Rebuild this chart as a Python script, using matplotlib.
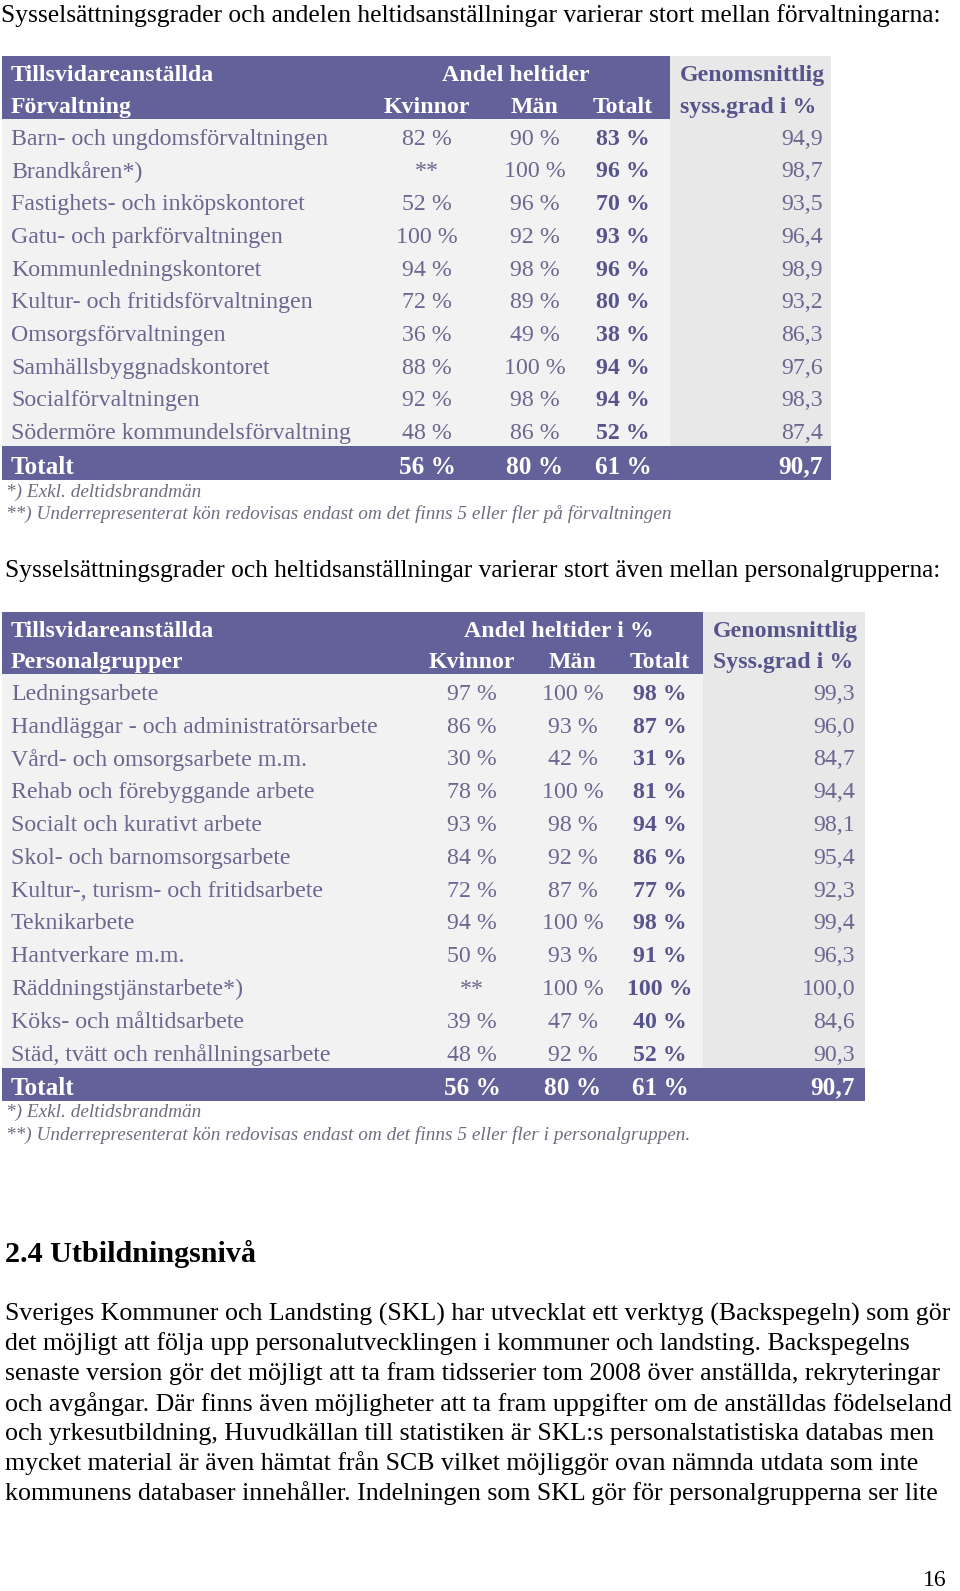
#---------------------------------Start--------------------------------

import matplotlib.pyplot as plt
from matplotlib.patches import Rectangle

plt.rcParams['font.family'] = ['Liberation Serif', 'DejaVu Serif']

#-------------------------------Data-----------------------------------

title1 = 'Sysselsättningsgrader och andelen heltidsanställningar varierar stort mellan förvaltningarna:'
forvaltningar = ['Barn- och ungdomsförvaltningen', 'Brandkåren*)', 'Fastighets- och inköpskontoret',
                 'Gatu- och parkförvaltningen', 'Kommunledningskontoret', 'Kultur- och fritidsförvaltningen',
                 'Omsorgsförvaltningen', 'Samhällsbyggnadskontoret', 'Socialförvaltningen',
                 'Södermöre kommundelsförvaltning']
forv_kvinnor = [82, None, 52, 100, 94, 72, 36, 88, 92, 48]
forv_man = [90, 100, 96, 92, 98, 89, 49, 100, 98, 86]
forv_totalt = [83, 96, 70, 93, 96, 80, 38, 94, 94, 52]
forv_syss = [94.9, 98.7, 93.5, 96.4, 98.9, 93.2, 86.3, 97.6, 98.3, 87.4]
forv_total_row = [56, 80, 61, 90.7]
forv_notes = ['*) Exkl. deltidsbrandmän',
              '**) Underrepresenterat kön redovisas endast om det finns 5 eller fler på förvaltningen']

title2 = 'Sysselsättningsgrader och heltidsanställningar varierar stort även mellan personalgrupperna:'
grupper = ['Ledningsarbete', 'Handläggar - och administratörsarbete', 'Vård- och omsorgsarbete m.m.',
           'Rehab och förebyggande arbete', 'Socialt och kurativt arbete', 'Skol- och barnomsorgsarbete',
           'Kultur-, turism- och fritidsarbete', 'Teknikarbete', 'Hantverkare m.m.',
           'Räddningstjänstarbete*)', 'Köks- och måltidsarbete', 'Städ, tvätt och renhållningsarbete']
grp_kvinnor = [97, 86, 30, 78, 93, 84, 72, 94, 50, None, 39, 48]
grp_man = [100, 93, 42, 100, 98, 92, 87, 100, 93, 100, 47, 92]
grp_totalt = [98, 87, 31, 81, 94, 86, 77, 98, 91, 100, 40, 52]
grp_syss = [99.3, 96.0, 84.7, 94.4, 98.1, 95.4, 92.3, 99.4, 96.3, 100.0, 84.6, 90.3]
grp_total_row = [56, 80, 61, 90.7]
grp_notes = ['*) Exkl. deltidsbrandmän',
             '**) Underrepresenterat kön redovisas endast om det finns 5 eller fler i personalgruppen.']

heading = '2.4 Utbildningsnivå'
paragraph = ['Sveriges Kommuner och Landsting (SKL) har utvecklat ett verktyg (Backspegeln) som gör',
             'det möjligt att följa upp personalutvecklingen i kommuner och landsting. Backspegelns',
             'senaste version gör det möjligt att ta fram tidsserier tom 2008 över anställda, rekryteringar',
             'och avgångar. Där finns även möjligheter att ta fram uppgifter om de anställdas födelseland',
             'och yrkesutbildning, Huvudkällan till statistiken är SKL:s personalstatistiska databas men',
             'mycket material är även hämtat från SCB vilket möjliggör ovan nämnda utdata som inte',
             'kommunens databaser innehåller. Indelningen som SKL gör för personalgrupperna ser lite']
page_no = '16'

#-------------------------------Style----------------------------------

PURPLE = '#63619a'
ROW_BG = '#f2f2f2'
COL_BG = '#e8e8e8'
TXT = '#6a6790'
BOLD_TXT = '#57548c'
NOTE = '#6d6d80'
FS = 17.2

#---------------------------Helpers------------------------------------

def pct(v):
    return '**' if v is None else f'{v} %'

def dec(v):
    return f'{v:.1f}'.replace('.', ',')

def draw_table(ax, top, head_h, row_h, tot_h, left, purple_right, gray_right,
               header_label, header_group, cols, labels, kv, man, tot, syss, total_row,
               syss_head, notes):
    # header
    ax.add_patch(Rectangle((left, top), purple_right - left, head_h, color=PURPLE, lw=0))
    ax.add_patch(Rectangle((purple_right, top), gray_right - purple_right, head_h, color=COL_BG, lw=0))
    h1 = top + head_h * 0.31
    h2 = top + head_h * 0.82
    ax.text(left + 9, h1, 'Tillsvidareanställda', color='white', fontsize=FS, weight='bold', va='center')
    ax.text(left + 9, h2, header_label, color='white', fontsize=FS, weight='bold', va='center')
    ax.text(header_group[1], h1, header_group[0], color='white', fontsize=FS, weight='bold',
            va='center', ha='center')
    for name, x in zip(['Kvinnor', 'Män', 'Totalt'], cols[:3]):
        ax.text(x, h2, name, color='white', fontsize=FS, weight='bold', va='center', ha='center')
    ax.text(purple_right + 10, h1, 'Genomsnittlig', color=BOLD_TXT, fontsize=FS, weight='bold', va='center')
    ax.text(purple_right + 10, h2, syss_head, color=BOLD_TXT, fontsize=FS, weight='bold', va='center')

    # body
    y0 = top + head_h
    n = len(labels)
    ax.add_patch(Rectangle((left, y0), purple_right - left, n * row_h, color=ROW_BG, lw=0))
    ax.add_patch(Rectangle((purple_right, y0), gray_right - purple_right, n * row_h, color=COL_BG, lw=0))
    for i in range(n):
        y = y0 + (i + 0.62) * row_h
        ax.text(left + 9, y, labels[i], color=TXT, fontsize=FS, va='center')
        ax.text(cols[0], y, pct(kv[i]), color=TXT, fontsize=FS, va='center', ha='center')
        ax.text(cols[1], y, pct(man[i]), color=TXT, fontsize=FS, va='center', ha='center')
        ax.text(cols[2], y, pct(tot[i]), color=BOLD_TXT, fontsize=FS, weight='bold', va='center', ha='center')
        ax.text(cols[3], y, dec(syss[i]), color=TXT, fontsize=FS, va='center', ha='right')

    # total row
    yt = y0 + n * row_h
    ax.add_patch(Rectangle((left, yt), gray_right - left, tot_h, color=PURPLE, lw=0))
    yc = yt + tot_h * 0.62
    ax.text(left + 9, yc, 'Totalt', color='white', fontsize=FS + 1, weight='bold', va='center')
    for x, v in zip(cols[:3], total_row[:3]):
        ax.text(x, yc, pct(v), color='white', fontsize=FS + 1, weight='bold', va='center', ha='center')
    ax.text(cols[3], yc, dec(total_row[3]), color='white', fontsize=FS + 1, weight='bold',
            va='center', ha='right')

    # notes
    for k, note in enumerate(notes):
        ax.text(left + 4, yt + tot_h + 12 + k * 22.5, note, color=NOTE, fontsize=13.9,
                style='italic', va='center')

#---------------------------Figure-------------------------------------

fig = plt.figure(figsize=(9.6, 15.91), dpi=100)
ax = fig.add_axes([0, 0, 1, 1])
ax.set_xlim(0, 960)
ax.set_ylim(1591, 0)
ax.axis('off')

ax.text(1, 16, title1, fontsize=18.4, va='center', color='black')

draw_table(ax, top=56, head_h=63, row_h=32.7, tot_h=34, left=2, purple_right=670, gray_right=831,
           header_label='Förvaltning', header_group=('Andel heltider', 516),
           cols=[427, 535, 623, 823], labels=forvaltningar, kv=forv_kvinnor, man=forv_man,
           tot=forv_totalt, syss=forv_syss, total_row=forv_total_row,
           syss_head='syss.grad i %', notes=forv_notes)

ax.text(5, 571, title2, fontsize=18.3, va='center', color='black')

draw_table(ax, top=612, head_h=62, row_h=32.8, tot_h=33, left=2, purple_right=703, gray_right=865,
           header_label='Personalgrupper', header_group=('Andel heltider i %', 559),
           cols=[472, 573, 660, 855], labels=grupper, kv=grp_kvinnor, man=grp_man,
           tot=grp_totalt, syss=grp_syss, total_row=grp_total_row,
           syss_head='Syss.grad i %', notes=grp_notes)

ax.text(5, 1254, heading, fontsize=21.7, weight='bold', va='center', color='black')
for k, line in enumerate(paragraph):
    ax.text(5, 1314 + k * 29.9, line, fontsize=18.6, va='center', color='black')
ax.text(947, 1581, page_no, fontsize=17, va='center', ha='right', color='black')

fig.savefig('out.png', dpi=100)

#------------------------------End---------------------------------------
